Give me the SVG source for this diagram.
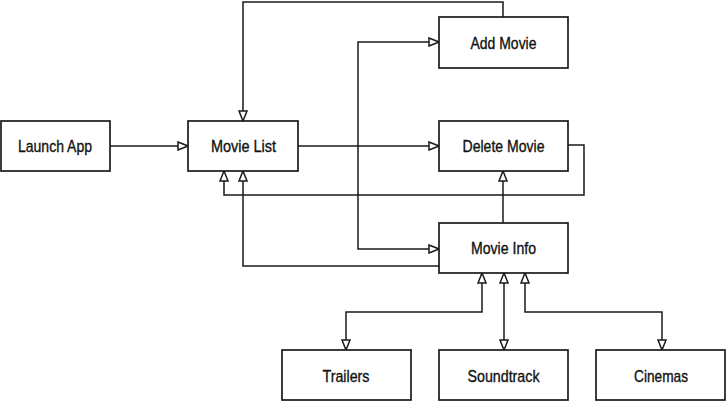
<svg xmlns="http://www.w3.org/2000/svg" width="727" height="402" viewBox="0 0 727 402">
<style>
.box{fill:#fff;stroke:#1a1a1a;stroke-width:1.7}
.lbl{font-family:"Liberation Sans",Arial,sans-serif;font-size:17px;fill:#111;stroke:#111;stroke-width:0.35;text-anchor:middle}
.c{fill:none;stroke:#1a1a1a;stroke-width:1.5}
</style>
<defs>
<marker id="ah" viewBox="0 0 12 10" refX="11" refY="5" markerWidth="12" markerHeight="10" markerUnits="userSpaceOnUse" orient="auto-start-reverse">
<path d="M1,1 L11,5 L1,9 Z" fill="#fff" stroke="#1a1a1a" stroke-width="1.5"/>
</marker>
</defs>
<rect width="727" height="402" fill="#fff"/>
<g id="connectors">
<path class="c" d="M110,146 H188" marker-end="url(#ah)"/>
<path class="c" d="M298,146 H439" marker-end="url(#ah)"/>
<path class="c" d="M503,17 V2 H243 V121" marker-end="url(#ah)"/>
<path class="c" d="M439,42 H358 V249 H439" marker-start="url(#ah)" marker-end="url(#ah)"/>
<path class="c" d="M568,145 H584 V195 H224 V171" marker-end="url(#ah)"/>
<path class="c" d="M503,223 V171" marker-end="url(#ah)"/>
<path class="c" d="M439,266 H243 V171" marker-end="url(#ah)"/>
<path class="c" d="M482,273 V312 H346 V350" marker-start="url(#ah)" marker-end="url(#ah)"/>
<path class="c" d="M504,273 V350" marker-start="url(#ah)" marker-end="url(#ah)"/>
<path class="c" d="M525,273 V312 H662 V350" marker-start="url(#ah)" marker-end="url(#ah)"/>
</g>
<g id="launch-app"><rect class="box" x="1" y="121" width="109" height="50"/><text class="lbl" x="55" y="152" textLength="74" lengthAdjust="spacingAndGlyphs">Launch App</text></g>
<g id="movie-list"><rect class="box" x="188" y="121" width="110" height="50"/><text class="lbl" x="243.5" y="152" textLength="65" lengthAdjust="spacingAndGlyphs">Movie List</text></g>
<g id="add-movie"><rect class="box" x="439" y="17" width="129" height="51"/><text class="lbl" x="503.5" y="48.5" textLength="66" lengthAdjust="spacingAndGlyphs">Add Movie</text></g>
<g id="delete-movie"><rect class="box" x="439" y="121" width="129" height="50"/><text class="lbl" x="503.5" y="152" textLength="82" lengthAdjust="spacingAndGlyphs">Delete Movie</text></g>
<g id="movie-info"><rect class="box" x="439" y="223" width="129" height="50"/><text class="lbl" x="503.5" y="254" textLength="65" lengthAdjust="spacingAndGlyphs">Movie Info</text></g>
<g id="trailers"><rect class="box" x="282" y="350" width="129" height="50"/><text class="lbl" x="346" y="381.5" textLength="47" lengthAdjust="spacingAndGlyphs">Trailers</text></g>
<g id="soundtrack"><rect class="box" x="439" y="350" width="129" height="50"/><text class="lbl" x="503.5" y="381.5" textLength="72" lengthAdjust="spacingAndGlyphs">Soundtrack</text></g>
<g id="cinemas"><rect class="box" x="596" y="350" width="129" height="50"/><text class="lbl" x="661" y="381.5" textLength="54" lengthAdjust="spacingAndGlyphs">Cinemas</text></g>
</svg>
